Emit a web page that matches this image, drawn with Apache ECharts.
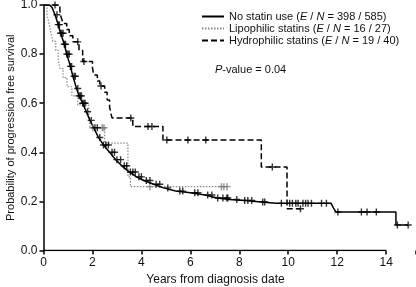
<!DOCTYPE html>
<html>
<head>
<meta charset="utf-8">
<script src="https://cdn.jsdelivr.net/npm/echarts@6/dist/echarts.min.js"></script>
<style>
html, body { margin: 0; padding: 0; background: #fff; }
#main { width: 416px; height: 287px; }
</style>
</head>
<body>
<div id="main"></div>
<script>
// axis ticks
const xTicks = [0, 2, 4, 6, 8, 10, 12, 14]
const yTicks = [0, 0.2, 0.4, 0.6, 0.8, 1.0]

// No statin use (E / N = 398 / 585)
const noStatinT = [0, 0.25, 0.35, 0.47, 0.6, 0.7, 0.85, 0.95, 1.1, 1.2, 1.35, 1.45, 1.6, 1.75, 1.9, 2.05, 2.25, 2.45, 2.7, 2.95, 3.2, 3.5, 3.8, 4.1, 4.5, 4.9, 5.4, 6.0, 6.6, 7.1, 7.6, 8.2, 8.9, 9.5, 11.75, 11.85, 11.95, 14.4, 14.4, 14.9]
const noStatinS = [1, 1, 0.99, 0.96, 0.92, 0.885, 0.84, 0.80, 0.75, 0.71, 0.66, 0.63, 0.60, 0.565, 0.53, 0.50, 0.46, 0.43, 0.40, 0.37, 0.345, 0.32, 0.30, 0.285, 0.27, 0.255, 0.242, 0.235, 0.226, 0.214, 0.208, 0.204, 0.198, 0.192, 0.192, 0.173, 0.157, 0.157, 0.104, 0.104]
const noStatinCensor = [0.55, 0.6, 0.65, 0.7, 0.75, 0.8, 0.85, 0.9, 0.95, 1.0, 1.05, 1.1, 1.15, 1.25, 1.3, 1.4, 1.45, 1.5, 1.55, 1.6, 1.65,
  1.7, 1.8, 1.95, 2.1, 2.2, 2.3, 2.45, 2.55, 2.65, 2.8, 2.9, 3.0, 3.15, 3.3, 3.4, 3.55, 3.65, 3.75, 3.9, 4.0, 4.2, 4.35, 4.6, 4.75,
  5.08, 5.57, 5.69, 6.18, 6.31, 6.71, 6.88, 7.12, 7.33, 7.49, 7.53, 7.9, 8.22, 8.35, 8.51, 8.96, 9.04,
  9.72, 10.06, 10.17, 10.31, 10.4, 10.6, 10.71, 10.81, 10.95, 11.36, 11.56, 12.03, 12.99, 13.22, 13.6, 14.46, 14.9]

// Lipophilic statins (E / N = 16 / 27)
const lipoT = [0, 0.14, 0.22, 0.3, 0.38, 0.5, 0.6, 0.67, 0.8, 0.96, 1.16, 1.4, 1.85, 1.9, 2.5, 3.45, 3.55, 7.5]
const lipoS = [1, 0.963, 0.926, 0.889, 0.852, 0.815, 0.778, 0.741, 0.704, 0.667, 0.63, 0.593, 0.556, 0.50, 0.437, 0.30, 0.26, 0.26]
const lipoCensor = [2.02, 2.4, 2.47, 4.35, 7.27, 7.37, 7.5]

// Hydrophilic statins (E / N = 19 / 40)
const hydroT = [0, 0.67, 0.72, 0.8, 0.95, 1.05, 1.2, 1.45, 1.6, 2.0, 2.05, 2.2, 2.3, 2.5, 2.6, 2.7, 2.75, 2.8, 3.65, 4.88, 8.9, 9.95, 10.5]
const hydroS = [1, 0.975, 0.95, 0.925, 0.9, 0.875, 0.85, 0.815, 0.77, 0.745, 0.715, 0.69, 0.67, 0.645, 0.613, 0.585, 0.56, 0.54, 0.505, 0.45, 0.34, 0.17, 0.17]
const hydroCensor = [0.47, 1.4, 1.65, 2.35, 3.57, 4.27, 4.43, 5.04, 5.9, 6.63, 9.35, 10.5]

const FONT = 'Liberation Sans, Arial, sans-serif'

function pairs(ts, ss) {
  return ts.map((t, i) => [t, ss[i]])
}
// survival value of a curve at time t (last point not after t)
function valueAt(ts, ss, t) {
  let v = ss[0]
  for (let i = 0; i < ts.length; i++) {
    if (ts[i] <= t + 1e-9) v = ss[i]
  }
  return v
}
function censorPts(cs, ts, ss) {
  return cs.map(t => [t, valueAt(ts, ss, t)])
}

const plus = 'path://M2,0H3V2H5V3H3V5H2V3H0V2H2Z'

const names = {
  none: 'No statin use',
  lipo: 'Lipophilic statins',
  hydro: 'Hydrophilic statins'
}
const counts = {
  none: '398 / 585',
  lipo: '16 / 27',
  hydro: '19 / 40'
}

const chart = echarts.init(document.getElementById('main'), null, { renderer: 'canvas' })

const option = {
  animation: false,
  textStyle: { fontFamily: FONT, color: '#111' },
  grid: { left: 43.5, top: 5, right: 0.5, bottom: 36.5, containLabel: false, outerBoundsMode: 'none' },
  legend: {
    orient: 'vertical',
    left: 201,
    top: 11,
    padding: 0,
    itemWidth: 22,
    itemHeight: 10,
    itemGap: 1,
    itemTextGap: 4,
    itemStyle: { opacity: 0 },
    data: [names.none, names.lipo, names.hydro],
    formatter: function (name) {
      const key = Object.keys(names).find(k => names[k] === name)
      return name + ' ({i|E} / {i|N} = ' + counts[key] + ')'
    },
    textStyle: {
      fontSize: 11,
      color: '#111',
      fontFamily: FONT,
      rich: { i: { fontStyle: 'italic', fontSize: 11, color: '#111', fontFamily: FONT } }
    }
  },
  graphic: [
    {
      type: 'text',
      left: 215,
      top: 64,
      style: {
        text: '{i|P}-value = 0.04',
        fontSize: 11,
        fontFamily: FONT,
        fill: '#111',
        rich: { i: { fontStyle: 'italic', fontSize: 11, fontFamily: FONT, fill: '#111' } }
      }
    }
  ],
  xAxis: {
    type: 'value',
    min: xTicks[0],
    max: 15.2,
    interval: 2,
    name: 'Years from diagnosis date',
    nameLocation: 'middle',
    nameGap: 20,
    nameTextStyle: { fontSize: 12, color: '#111', fontFamily: FONT, padding: [0, 28, 0, 0] },
    axisLine: { show: false },
    axisTick: { show: true, inside: false, length: 4, lineStyle: { color: '#000', width: 1.5 } },
    axisLabel: {
      fontSize: 12, color: '#111', margin: 6, fontFamily: FONT,
      formatter: v => (xTicks.indexOf(v) >= 0 ? String(v) : '')
    },
    splitLine: { show: false }
  },
  yAxis: {
    type: 'value',
    min: yTicks[0],
    max: yTicks[yTicks.length - 1],
    interval: 0.2,
    name: 'Probability of progression free survival',
    nameLocation: 'middle',
    nameGap: 27,
    nameMoveOverlap: false,
    nameRotate: 90,
    nameTextStyle: { fontSize: 11, color: '#111', fontFamily: FONT },
    axisLine: { show: true, lineStyle: { color: '#000', width: 1.5 } },
    axisTick: { show: true, inside: false, length: 4, lineStyle: { color: '#000', width: 1.5 } },
    axisLabel: { fontSize: 12, color: '#111', margin: 6, fontFamily: FONT, formatter: v => v.toFixed(1) },
    splitLine: { show: false }
  },
  series: [
    {
      // x axis line, from first to last tick only
      type: 'line',
      symbol: 'none',
      silent: true,
      data: [[xTicks[0], yTicks[0]], [xTicks[xTicks.length - 1], yTicks[0]]],
      lineStyle: { color: '#000', width: 1.5 },
      z: 5
    },
    {
      name: names.none,
      type: 'line',
      symbol: 'none',
      data: pairs(noStatinT, noStatinS),
      lineStyle: { color: '#000', width: 1.5, type: 'solid' },
      itemStyle: { color: '#000' },
      z: 3
    },
    {
      name: names.lipo,
      type: 'line',
      step: 'end',
      symbol: 'none',
      data: pairs(lipoT, lipoS),
      lineStyle: { color: '#8a8a8a', width: 1.2, type: [1.5, 1.5] },
      itemStyle: { color: '#8a8a8a' },
      z: 2
    },
    {
      name: names.hydro,
      type: 'line',
      step: 'end',
      symbol: 'none',
      data: pairs(hydroT, hydroS),
      lineStyle: { color: '#000', width: 1.5, type: [6, 3] },
      itemStyle: { color: '#000' },
      z: 2
    },
    {
      type: 'scatter',
      symbol: plus,
      symbolSize: 7,
      data: censorPts(noStatinCensor, noStatinT, noStatinS),
      itemStyle: { color: '#000' },
      z: 4
    },
    {
      type: 'scatter',
      symbol: plus,
      symbolSize: 7,
      data: censorPts(lipoCensor, lipoT, lipoS),
      itemStyle: { color: '#777' },
      z: 3
    },
    {
      type: 'scatter',
      symbol: plus,
      symbolSize: 7,
      data: censorPts(hydroCensor, hydroT, hydroS),
      itemStyle: { color: '#000' },
      z: 3
    }
  ]
}

chart.setOption(option)
</script>
</body>
</html>
